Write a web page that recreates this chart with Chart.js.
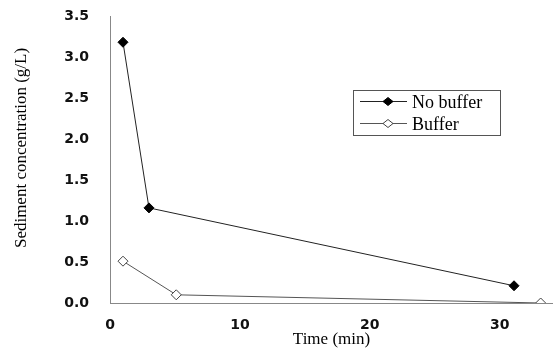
<!DOCTYPE html>
<html>
<head>
<meta charset="utf-8">
<script src="https://cdn.jsdelivr.net/npm/chart.js@4/dist/chart.umd.min.js"></script>
<style>
  html, body { margin: 0; padding: 0; background: #fff; }
  #wrap { width: 553px; height: 351px; position: relative; }
</style>
</head>
<body>
<div id="wrap"><canvas id="c" width="553" height="351"></canvas></div>
<script>
// ---- data ----
const seriesNames = ["No buffer", "Buffer"];
const timeNoBuffer = [1, 3, 31.1];
const concNoBuffer = [3.18, 1.16, 0.21];
const timeBuffer = [1, 5.1, 33.15];
const concBuffer = [0.51, 0.10, 0.0];
const yTicks = [0, 0.5, 1.0, 1.5, 2.0, 2.5, 3.0, 3.5];
const xTicks = [0, 10, 20, 30];
const xTitle = "Time (min)";
const yTitle = "Sediment concentration (g/L)";

const pts = (xs, ys) => xs.map((x, i) => ({ x: x, y: ys[i] }));

const serif = "'Liberation Serif', 'Times New Roman', serif";
const sans = "'DejaVu Sans', Verdana, sans-serif";

const legendPlugin = {
  id: 'boxLegend',
  afterDraw(chart) {
    const ctx = chart.ctx;
    const x0 = 353, y0 = 90, w = 147, h = 45;
    ctx.save();
    ctx.strokeStyle = '#555';
    ctx.lineWidth = 1;
    ctx.strokeRect(x0 + 0.5, y0 + 0.5, w, h);
    const rows = [
      { y: 101, ds: chart.data.datasets[0] },
      { y: 123, ds: chart.data.datasets[1] }
    ];
    rows.forEach(r => {
      ctx.strokeStyle = r.ds.borderColor;
      ctx.lineWidth = 1;
      ctx.beginPath();
      ctx.moveTo(360, r.y + 0.5);
      ctx.lineTo(407, r.y + 0.5);
      ctx.stroke();
      ctx.beginPath();
      ctx.moveTo(383, r.y + 0.5);
      ctx.lineTo(388, r.y - 3.5);
      ctx.lineTo(393, r.y + 0.5);
      ctx.lineTo(388, r.y + 4.5);
      ctx.closePath();
      ctx.fillStyle = r.ds.pointBackgroundColor;
      ctx.fill();
      ctx.strokeStyle = r.ds.pointBorderColor;
      ctx.stroke();
      ctx.fillStyle = '#000';
      ctx.font = '18px ' + serif;
      ctx.textBaseline = 'middle';
      ctx.textAlign = 'left';
      ctx.fillText(r.ds.label, 412, r.y + 2);
    });
    ctx.restore();
  }
};

const yTitlePlugin = {
  id: 'yTitle',
  afterDraw(chart) {
    const ctx = chart.ctx;
    ctx.save();
    ctx.translate(22, 148);
    ctx.rotate(-Math.PI / 2);
    ctx.font = '17px ' + serif;
    ctx.fillStyle = '#000';
    ctx.textAlign = 'center';
    ctx.textBaseline = 'middle';
    ctx.fillText(yTitle, 0, 0);
    ctx.restore();
  }
};

new Chart(document.getElementById('c'), {
  type: 'scatter',
  data: {
    datasets: [
      {
        label: seriesNames[0],
        data: pts(timeNoBuffer, concNoBuffer),
        showLine: true,
        borderColor: '#222',
        borderWidth: 1,
        pointStyle: 'rectRot',
        pointRadius: 5,
        pointBackgroundColor: '#000',
        pointBorderColor: '#000',
        pointBorderWidth: 1
      },
      {
        label: seriesNames[1],
        data: pts(timeBuffer, concBuffer),
        showLine: true,
        borderColor: '#555',
        borderWidth: 1,
        pointStyle: 'rectRot',
        pointRadius: 5,
        pointBackgroundColor: '#fff',
        pointBorderColor: '#444',
        pointBorderWidth: 1
      }
    ]
  },
  options: {
    responsive: false,
    animation: false,
    layout: { autoPadding: false, padding: { top: 16, right: 0, left: 0, bottom: 0 } },
    plugins: {
      legend: { display: false },
      tooltip: { enabled: false }
    },
    scales: {
      x: {
        type: 'linear',
        min: 0,
        max: 34.1,
        afterFit(s) { s.height = 48; s.paddingLeft = 0; s.paddingRight = 0; },
        afterBuildTicks(s) { s.ticks = xTicks.map(v => ({ value: v })); },
        grid: { display: false, drawOnChartArea: false, drawTicks: true, tickLength: 4, tickColor: '#888' },
        border: { display: true, color: '#888', width: 1 },
        ticks: {
          includeBounds: false,
          padding: 10,
          color: '#111',
          font: { family: sans, size: 14, weight: 'bold' },
          maxRotation: 0
        },
        title: {
          display: true,
          text: xTitle,
          color: '#000',
          font: { family: serif, size: 17 },
          padding: { top: 0, bottom: 1 }
        }
      },
      y: {
        type: 'linear',
        min: 0,
        max: 3.5,
        afterFit(s) { s.width = 110; s.paddingTop = 0; s.paddingBottom = 0; },
        afterBuildTicks(s) { s.ticks = yTicks.map(v => ({ value: v })); },
        grid: { display: false, drawOnChartArea: false, drawTicks: true, tickLength: 7, tickColor: '#888' },
        border: { display: true, color: '#888', width: 1 },
        ticks: {
          padding: 14,
          color: '#111',
          font: { family: sans, size: 14, weight: 'bold' },
          callback: v => Number(v).toFixed(1)
        },
        title: { display: false }
      }
    }
  },
  plugins: [legendPlugin, yTitlePlugin]
});
</script>
</body>
</html>
